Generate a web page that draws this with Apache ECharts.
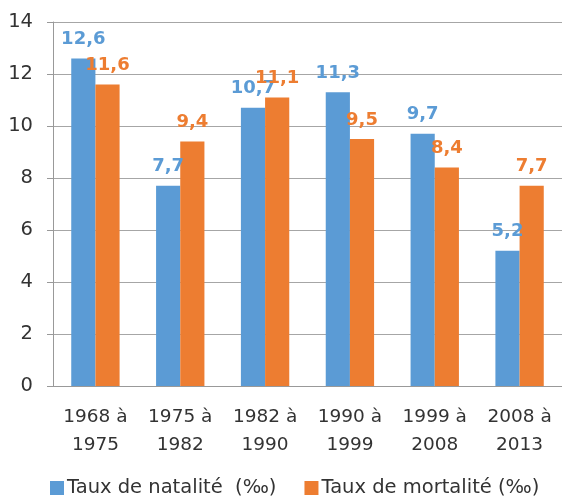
<!DOCTYPE html>
<html>
<head>
<meta charset="utf-8">
<script src="https://cdn.jsdelivr.net/npm/echarts@6/dist/echarts.min.js"></script>
<style>
    * { margin: 0; padding: 0; }
    #main { width: 562px; height: 500px; }
</style>
</head>
<body>
<div id="main"></div>
<script>
    // données
    var periodes = ['1968 à\n1975', '1975 à\n1982', '1982 à\n1990', '1990 à\n1999', '1999 à\n2008', '2008 à\n2013'];
    var natalite = [12.6, 7.7, 10.7, 11.3, 9.7, 5.2];
    var mortalite = [11.6, 9.4, 11.1, 9.5, 8.4, 7.7];
    var yTicks = [0, 2, 4, 6, 8, 10, 12, 14];

    var font = 'DejaVu Sans';
    var labelFmt = function (p) { return String(p.value).replace('.', ','); };

    var myChart = echarts.init(document.getElementById('main'));
    myChart.setOption({
        backgroundColor: '#fff',
        textStyle: { fontFamily: font },
        grid: { left: 53, right: -8, top: 22, bottom: 114 },
        legend: {
            top: 473,
            left: 45,
            itemWidth: 14,
            itemHeight: 14,
            itemGap: 28,
            icon: 'rect',
            textStyle: { fontSize: 19.5, color: '#333', fontFamily: font, padding: [0, 0, 0, -2] },
            data: ['Taux de natalité  (‰)', 'Taux de mortalité (‰)']
        },
        xAxis: {
            type: 'category',
            data: periodes,
            axisLine: { lineStyle: { color: '#999' } },
            axisTick: { length: 6, lineStyle: { color: '#999' } },
            axisLabel: { fontSize: 18.5, color: '#333', lineHeight: 28, margin: 17 }
        },
        yAxis: {
            type: 'value',
            min: yTicks[0],
            max: yTicks[yTicks.length - 1],
            interval: 2,
            axisLine: { show: true, lineStyle: { color: '#999' } },
            axisTick: { show: true, length: 6, lineStyle: { color: '#999' } },
            axisLabel: { fontSize: 19.5, color: '#333', margin: 20 },
            splitLine: { lineStyle: { color: '#a6a6a6' } }
        },
        series: [
            {
                name: 'Taux de natalité  (‰)',
                type: 'bar',
                data: natalite,
                barGap: '0%',
                barCategoryGap: '43%',
                itemStyle: { color: '#5B9BD5' },
                label: {
                    show: true, position: 'top', distance: 10,
                    formatter: labelFmt, fontSize: 18, fontWeight: 'bold', color: '#5B9BD5'
                }
            },
            {
                name: 'Taux de mortalité (‰)',
                type: 'bar',
                data: mortalite,
                itemStyle: { color: '#ED7D31' },
                label: {
                    show: true, position: 'top', distance: 10,
                    formatter: labelFmt, fontSize: 18, fontWeight: 'bold', color: '#ED7D31'
                }
            }
        ]
    });
</script>
</body>
</html>
